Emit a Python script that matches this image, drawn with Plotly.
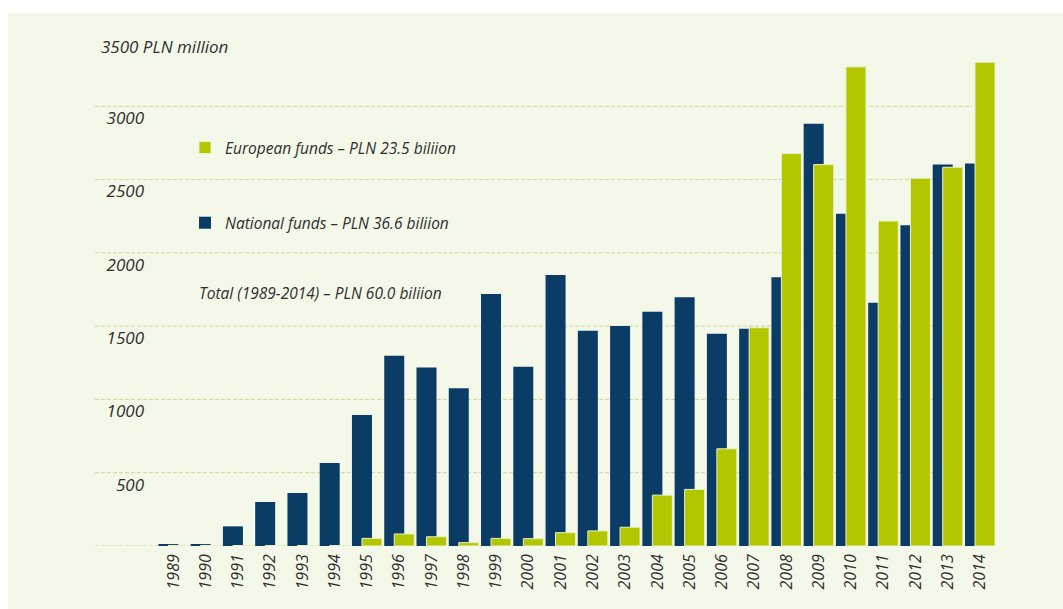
import plotly.graph_objects as go

years = [str(y) for y in range(1989, 2015)]
national = [8, 12, 134, 300, 361, 566, 894, 1298, 1217, 1076, 1719, 1223, 1849,
            1469, 1501, 1599, 1697, 1448, 1482, 1834, 2880, 2266, 1659, 2188, 2602, 2609]
european = [4, 4, 3, 3, 3, 3, 52, 82, 63, 23, 52, 50, 91,
            103, 128, 347, 386, 663, 1489, 2678, 2602, 3269, 2217, 2509, 2584, 3300]
ytick_vals = [0, 500, 1000, 1500, 2000, 2500, 3000, 3500]
ytick_text = ["", "500", "1000", "1500", "2000", "2500", "3000", ""]

NAVY = "#0b3c66"
GREEN = "#b2c700"
BG = "#f3f8e9"
GRID = "#cfd88f"
TXT = "#2f2f2f"
FONT = "Open Sans"

W, H = 1063, 609
L, R, T, B = 150, 63, 33, 63
pw = W - L - R
ph = H - T - B


def px_x(x):
    return (x - L) / pw


def px_y(y):
    return (H - B - y) / ph


fig = go.Figure()
fig.add_trace(go.Bar(
    x=years, y=national, name="National funds – PLN 36.6 biliion",
    marker=dict(color=NAVY, line=dict(width=0)),
    offset=-0.465, width=0.62, legendrank=2, legendgroup="n"))
fig.add_trace(go.Bar(
    x=years, y=european, name="European funds – PLN 23.5 biliion",
    marker=dict(color=GREEN, line=dict(width=1, color="#e9f1cc")),
    offset=-0.155, width=0.62, legendrank=1, legendgroup="e"))

shapes = [dict(type="rect", xref="paper", yref="paper",
               x0=px_x(8), x1=px_x(W + 5), y0=px_y(H + 5), y1=px_y(13),
               fillcolor=BG, line=dict(width=0), layer="below")]
for v in ytick_vals[:-1]:
    shapes.append(dict(type="line", xref="paper", yref="y",
                       x0=px_x(95), x1=px_x(972), y0=v, y1=v,
                       line=dict(color=GRID, width=1, dash="4px,2px"),
                       layer="below"))

fig.update_layout(
    width=W, height=H,
    margin=dict(l=L, r=R, t=T, b=B),
    paper_bgcolor="white", plot_bgcolor="rgba(0,0,0,0)",
    barmode="overlay",
    shapes=shapes,
    showlegend=True,
    legend=dict(x=px_x(185), y=px_y(131), xanchor="left", yanchor="top",
                bgcolor="rgba(0,0,0,0)", tracegroupgap=52,
                font=dict(family=FONT, size=15.5, color=TXT, style="italic"),
                itemclick=False),
    xaxis=dict(range=[-0.725, 25.62], tickangle=-90, showgrid=False,
               showline=False, zeroline=False, ticks="",
               tickfont=dict(family=FONT, size=16, color=TXT, style="italic"),
               ticklabelstandoff=4),
    yaxis=dict(range=[0, 3500], tickvals=ytick_vals, ticktext=ytick_text,
               showgrid=False, zeroline=False, showline=False, ticks="",
               ticklabelposition="outside bottom", ticklabelstandoff=5,
               tickfont=dict(family=FONT, size=17, color=TXT, style="italic")),
    annotations=[
        dict(text="3500 PLN million", xref="paper", yref="y", x=px_x(99), y=3500,
             xanchor="left", yanchor="top", yshift=0, showarrow=False,
             font=dict(family=FONT, size=17, color=TXT, style="italic")),
        dict(text="Total (1989-2014) – PLN 60.0 biliion", xref="paper", yref="paper",
             x=px_x(197), y=px_y(293), xanchor="left", yanchor="middle", showarrow=False,
             font=dict(family=FONT, size=15.5, color=TXT, style="italic")),
    ],
)

fig.write_html("out.html")
